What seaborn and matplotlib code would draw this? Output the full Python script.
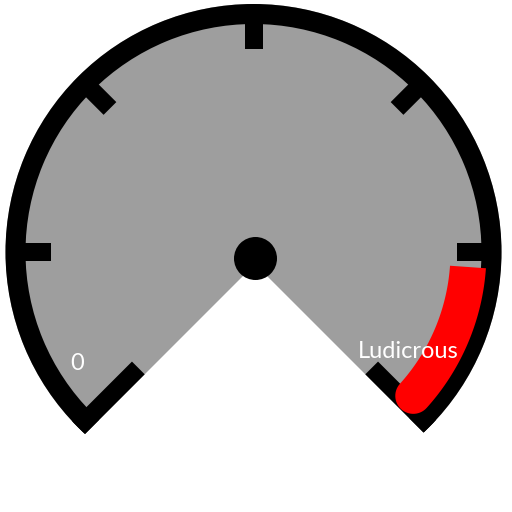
import numpy as np
import matplotlib
matplotlib.use("Agg")
import matplotlib.pyplot as plt
from matplotlib.patches import Circle, Wedge, Polygon
import seaborn as sns

# gauge data
gauge_start = 225   # angle of the "0" end (degrees, math convention)
gauge_end = -45     # angle of the "Ludicrous" end
tick_angles = [180, 135, 90, 45, 0]      # inner ticks
end_angles = [225, -45]                  # ticks along the cut edges
label_min = "0"
label_max = "Ludicrous"
band_angles = [-4, -42]                  # red highlighted zone

sns.set_theme(style="white")
plt.rcParams['font.family'] = ['Lato', 'DejaVu Sans']

# geometry in pixels (image coordinates, y down)
cx, cy = 253.5, 252.0
R = 248
ring_w = 20
ax_cx, ax_cy = 255.0, 264.0   # apex of the white cut

def pt(r, a, x0=cx, y0=cy):
    t = np.deg2rad(a)
    return np.array([x0 + r * np.cos(t), y0 - r * np.sin(t)])

fig = plt.figure(figsize=(5.12, 5.12), dpi=100)
ax = fig.add_axes([0, 0, 1, 1])
ax.set_xlim(0, 512)
ax.set_ylim(512, 0)
ax.set_aspect('equal')
ax.axis('off')

# gray face and black rim
face = Circle((cx, cy), R, color='#9e9e9e', lw=0, zorder=1)
ax.add_patch(face)
ax.add_patch(Wedge((cx, cy), R, 0, 360, width=ring_w, color='black', lw=0, zorder=2))

# regular ticks
tw = 18
for a in tick_angles:
    u = pt(1, a, 0, 0)
    n = np.array([-u[1], u[0]]) * tw / 2
    p1, p2 = pt(203, a), pt(R - 2, a)
    ax.add_patch(Polygon([p1 - n, p2 - n, p2 + n, p1 + n], color='black', lw=0, zorder=3))

# white cut at the bottom
big = 400
ax.add_patch(Polygon([pt(0, 0, ax_cx, ax_cy), pt(big, gauge_start, ax_cx, ax_cy),
                      pt(big, 270, ax_cx, ax_cy), pt(big, gauge_end, ax_cx, ax_cy)],
                     color='white', lw=0, zorder=4))

# end ticks lying along the cut edges, inside the face
for a, side in zip(end_angles, [1, -1]):
    u = pt(1, a, 0, 0)
    n = np.array([-u[1], u[0]]) * side * tw
    p1, p2 = pt(156, a, ax_cx, ax_cy), pt(270, a, ax_cx, ax_cy)
    tick = Polygon([p1, p2, p2 + n, p1 + n], color='black', lw=0, zorder=5)
    ax.add_patch(tick)
    tick.set_clip_path(face)

# red zone, painted over the rim end
r_m, hw = 215, 18
th = np.linspace(band_angles[0], band_angles[1], 60)
outer = np.array([pt(r_m + hw, a) for a in th])
inner = np.array([pt(r_m - hw, a) for a in th[::-1]])
end_c = pt(r_m, band_angles[1])
u_end = pt(1, band_angles[1], 0, 0)
base = np.rad2deg(np.arctan2(-u_end[1], u_end[0]))
cap_t = np.deg2rad(np.linspace(base, base - 180, 30))
cap = np.column_stack([end_c[0] + hw * np.cos(cap_t), end_c[1] - hw * np.sin(cap_t)])
ax.add_patch(Polygon(np.vstack([outer, cap, inner]), color='#ff0000', lw=0, zorder=6))

# hub
ax.add_patch(Circle((255.5, 258.5), 21.5, color='black', lw=0, zorder=6))

ax.text(77, 363, label_min, color='white', fontsize=17, ha='center', va='center', zorder=7)
ax.text(408, 351, label_max, color='white', fontsize=17, ha='center', va='center', zorder=7)

fig.savefig('out.png', dpi=100)
